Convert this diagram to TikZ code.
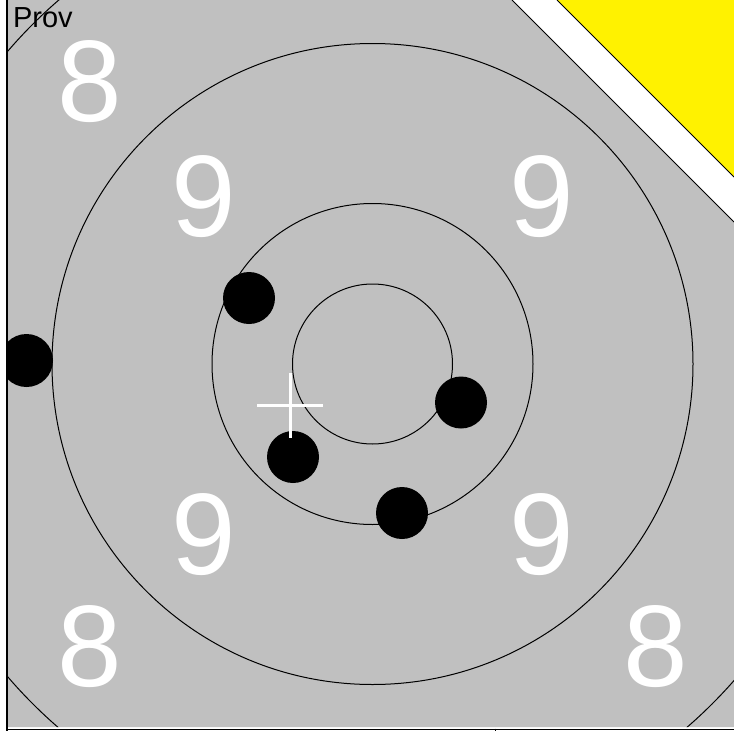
\documentclass[tikz,border=0pt]{standalone}
\usepackage{fontspec}
\setmainfont{Liberation Sans}
\definecolor{targetgray}{HTML}{C0C0C0}
\definecolor{baseline}{HTML}{606060}
\begin{document}
\begin{tikzpicture}[x=1pt,y=-1pt,
  ring/.style={draw=black,line width=1pt},
  shot/.style={fill=black},
  numeral/.style={text=white,font=\fontsize{116}{116}\selectfont,inner sep=0pt,anchor=center},
  crossline/.style={draw=white,line width=3pt}]
\useasboundingbox (0,0) rectangle (734,731);
\fill[white] (0,0) rectangle (734,731);
% yellow corner
\fill[yellow] (557,0) -- (734,0) -- (734,177) -- cycle;
\draw[line width=1pt] (557,0) -- (734,177);
\begin{scope}
  \clip (8,0) -- (512,0) -- (734,222) -- (734,727) -- (8,727) -- cycle;
  \fill[targetgray] (0,0) rectangle (734,731);
  \coordinate (c) at (372.5,364);
  \node[numeral] (n8a) at (89.5,82) {8};
  \node[numeral] (n8b) at (89.5,647) {8};
  \node[numeral] (n8c) at (656,647) {8};
  \node[numeral] (n9a) at (204,196.5) {9};
  \node[numeral] (n9b) at (542,196.5) {9};
  \node[numeral] (n9c) at (204,535) {9};
  \node[numeral] (n9d) at (542,535) {9};
  \draw[ring] (c) circle[radius=80];
  \draw[ring] (c) circle[radius=160.5];
  \draw[ring] (c) circle[radius=320.5];
  \draw[ring] (c) circle[radius=480.5];
  \fill[shot] (26.5,360.5) circle[radius=26.5];
  \fill[shot] (249,298) circle[radius=26];
  \fill[shot] (461,402.5) circle[radius=26];
  \fill[shot] (293,457) circle[radius=26];
  \fill[shot] (402,513) circle[radius=26];
  \draw[crossline] (257,405) -- (323,405);
  \draw[crossline] (290,373) -- (290,438);
\end{scope}
\draw[line width=1pt] (512,0) -- (734,222);
\draw[line width=1.5pt] (7,0) -- (7,731);
\draw[baseline,line width=1.5pt] (7,729.5) -- (734,729.5);
\draw[line width=1pt] (495,728.5) -- (495,731);
\node[font=\fontsize{29}{29}\selectfont,inner sep=0pt,anchor=base west] (prov) at (12.8,27) {Prov};
\end{tikzpicture}
\end{document}
